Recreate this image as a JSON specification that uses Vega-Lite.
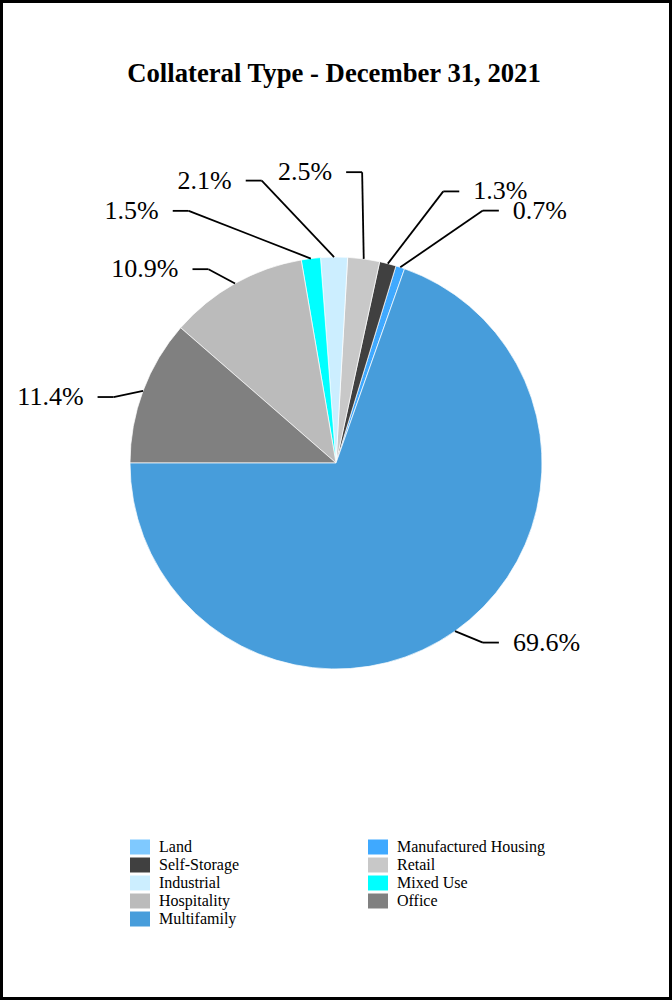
{
  "$schema": "https://vega.github.io/schema/vega-lite/v6.json",
  "width": 672,
  "height": 1000,
  "autosize": {"type": "none"},
  "padding": 0,
  "background": "white",
  "config": {"view": {"stroke": "black", "strokeWidth": 6}, "font": "Liberation Serif"},
  "title": {"text": "Collateral Type - December 31, 2021", "font": "Liberation Serif", "fontSize": 26.7, "fontWeight": "bold", "color": "black", "anchor": "middle", "frame": "group", "offset": -109, "baseline": "alphabetic", "dx": -2},
  "data": {"values": [
    {"type": "Land", "share": 0, "seq": 1},
    {"type": "Manufactured Housing", "share": 0.007, "seq": 2},
    {"type": "Self-Storage", "share": 0.013, "seq": 3},
    {"type": "Retail", "share": 0.025, "seq": 4},
    {"type": "Industrial", "share": 0.021, "seq": 5},
    {"type": "Mixed Use", "share": 0.015, "seq": 6},
    {"type": "Hospitality", "share": 0.109, "seq": 7},
    {"type": "Office", "share": 0.114, "seq": 8},
    {"type": "Multifamily", "share": 0.696, "seq": 9}
  ]},
  "layer": [
    {
      "mark": {"type": "arc", "outerRadius": 206, "stroke": "white", "strokeWidth": 0.7},
      "encoding": {
        "x": {"datum": 0, "type": "quantitative", "scale": {"domain": [-336, 336], "nice": false, "zero": false}, "axis": null},
        "y": {"datum": 0, "type": "quantitative", "scale": {"domain": [-537, 463], "nice": false, "zero": false}, "axis": null},
        "theta": {"field": "share", "type": "quantitative", "stack": true, "scale": {"range": [0.33929, 6.62248]}},
        "order": {"field": "seq", "sort": "descending"},
        "color": {
          "field": "type", "type": "nominal",
          "scale": {
            "domain": ["Land", "Manufactured Housing", "Self-Storage", "Retail", "Industrial", "Mixed Use", "Hospitality", "Office", "Multifamily"],
            "range": ["#7FC9FF", "#3FA9FF", "#404040", "#C8C8C8", "#CCEEFF", "#00FFFF", "#BBBBBB", "#808080", "#479DDB"]
          },
          "legend": {
            "title": null, "orient": "none", "legendX": 130, "legendY": 837, "direction": "horizontal", "columns": 2, "columnPadding": 129, "rowPadding": 0,
            "symbolType": "M-1,-0.75H1V0.75H-1Z", "symbolSize": 400, "symbolStrokeWidth": 0, "symbolOpacity": 1,
            "labelFont": "Liberation Serif", "labelFontSize": 16, "labelColor": "black", "labelOffset": 9, "labelLimit": 300
          }
        }
      }
    },
    {
      "transform": [
        {"filter": "datum.share > 0"},
        {"window": [{"op": "sum", "field": "share", "as": "cum"}], "sort": [{"field": "seq", "order": "descending"}], "frame": [null, 0]},
        {"calculate": "19.44 + 360 * (datum.cum - datum.share / 2)", "as": "a0"},
        {"calculate": "datum.a0 > 180 ? datum.a0 - 360 : datum.a0", "as": "a"},
        {"calculate": "datum.share < 0.05 ? 2.4 * (datum.a - 5.6) : datum.a - 4", "as": "la"},
        {"calculate": "datum.share < 0.05 ? 292 : 232", "as": "lr"},
        {"calculate": "sin((datum.la - 10) * PI / 180) > 0 ? 1 : -1", "as": "side"},
        {"calculate": "206 * sin(datum.a * PI / 180)", "as": "ex"},
        {"calculate": "206 * cos(datum.a * PI / 180)", "as": "ey"},
        {"calculate": "datum.lr * sin(datum.la * PI / 180)", "as": "px"},
        {"calculate": "datum.lr * cos(datum.la * PI / 180)", "as": "py"},
        {"calculate": "datum.px + 16 * datum.side", "as": "tx"},
        {"calculate": "datum.tx + 14 * datum.side", "as": "lx"}
      ],
      "layer": [
        {
          "mark": {"type": "rule", "color": "black", "strokeWidth": 1.8},
          "encoding": {
            "x": {"field": "ex", "type": "quantitative", "scale": {"domain": [-336, 336], "nice": false, "zero": false}, "axis": null},
            "y": {"field": "ey", "type": "quantitative", "scale": {"domain": [-537, 463], "nice": false, "zero": false}, "axis": null},
            "x2": {"field": "px"},
            "y2": {"field": "py"}
          }
        },
        {
          "mark": {"type": "rule", "color": "black", "strokeWidth": 1.8},
          "encoding": {
            "x": {"field": "px", "type": "quantitative", "scale": {"domain": [-336, 336], "nice": false, "zero": false}, "axis": null},
            "y": {"field": "py", "type": "quantitative", "scale": {"domain": [-537, 463], "nice": false, "zero": false}, "axis": null},
            "x2": {"field": "tx"}
          }
        },
        {
          "transform": [{"filter": "datum.side < 0"}],
          "mark": {"type": "text", "align": "right", "baseline": "middle", "font": "Liberation Serif", "fontSize": 26, "color": "black"},
          "encoding": {
            "x": {"field": "lx", "type": "quantitative", "scale": {"domain": [-336, 336], "nice": false, "zero": false}, "axis": null},
            "y": {"field": "py", "type": "quantitative", "scale": {"domain": [-537, 463], "nice": false, "zero": false}, "axis": null},
            "text": {"field": "share", "type": "quantitative", "format": ".1%"}
          }
        },
        {
          "transform": [{"filter": "datum.side > 0"}],
          "mark": {"type": "text", "align": "left", "baseline": "middle", "font": "Liberation Serif", "fontSize": 26, "color": "black"},
          "encoding": {
            "x": {"field": "lx", "type": "quantitative", "scale": {"domain": [-336, 336], "nice": false, "zero": false}, "axis": null},
            "y": {"field": "py", "type": "quantitative", "scale": {"domain": [-537, 463], "nice": false, "zero": false}, "axis": null},
            "text": {"field": "share", "type": "quantitative", "format": ".1%"}
          }
        }
      ]
    }
  ]
}
